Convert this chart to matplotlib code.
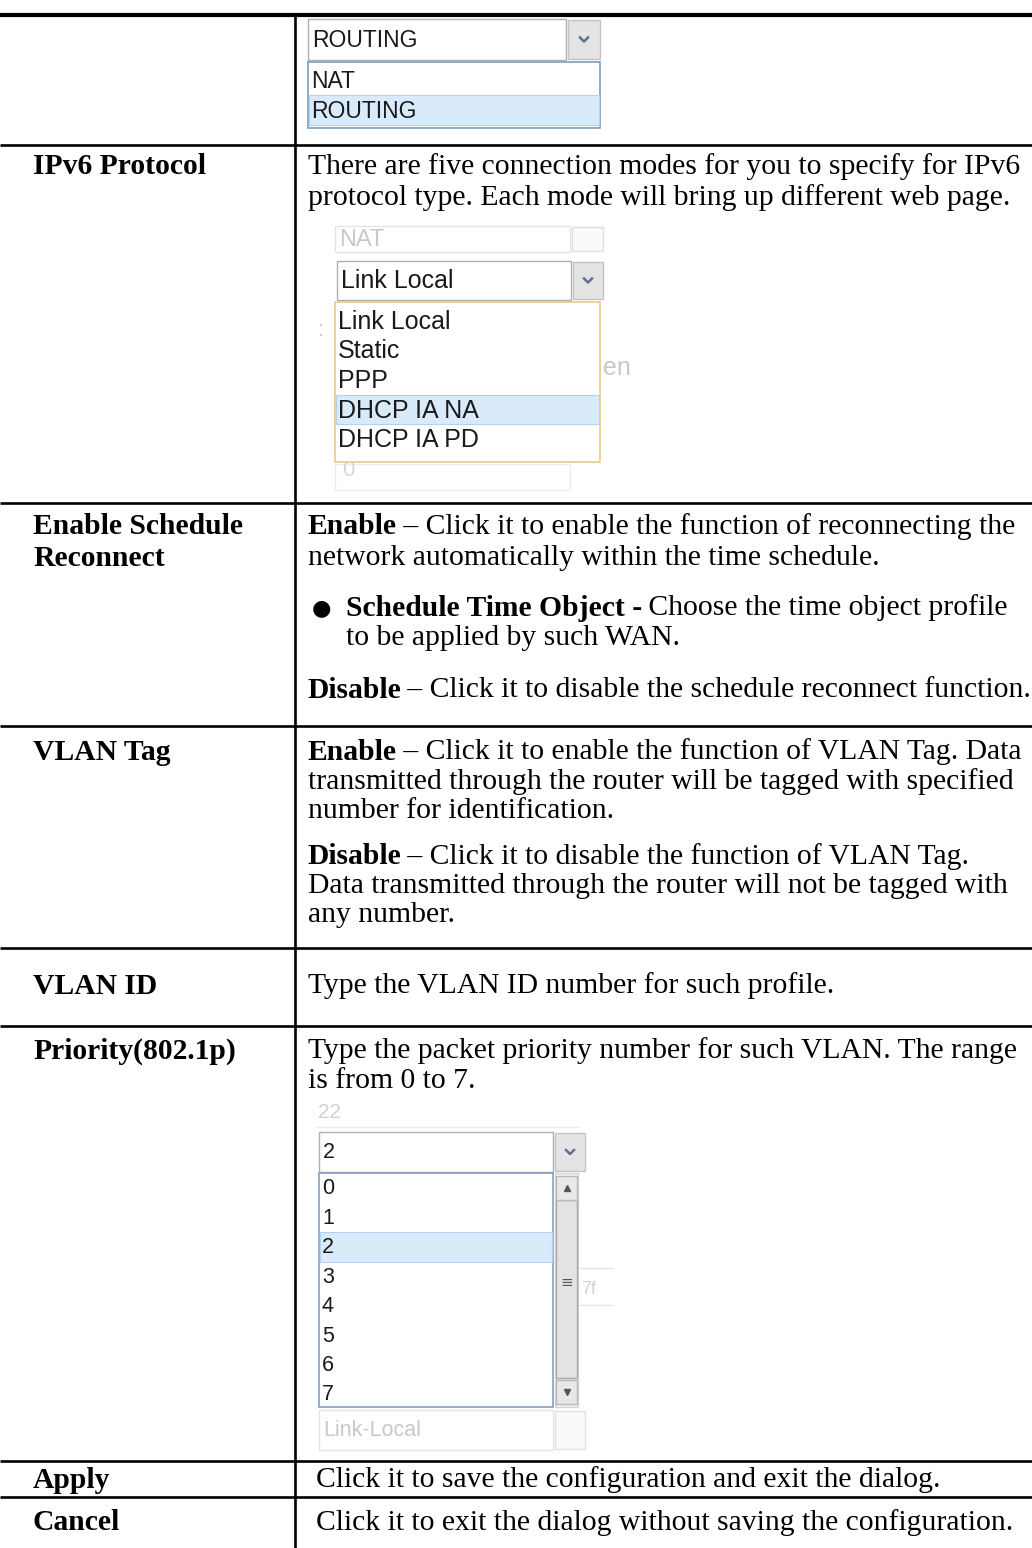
import matplotlib.pyplot as plt
from matplotlib.patches import Rectangle

# page size in pixels
W, H = 1032, 1548

SERIF = ['Liberation Serif', 'DejaVu Serif']
SANS = ['Liberation Sans', 'DejaVu Sans']
DESC_SIZE = 21.3

# ---- table text ----
row_labels = ['IPv6 Protocol', 'Enable Schedule', 'Reconnect', 'VLAN Tag', 'VLAN ID',
              'Priority(802.1p)', 'Apply', 'Cancel']

ipv6_desc = [[('There are five connection modes for you to specify for IPv6', False)],
             [('protocol type. Each mode will bring up different web page.', False)]]
sched_desc = [[('Enable', True), (' – Click it to enable the function of reconnecting the', False)],
              [('network automatically within the time schedule.', False)]]
sched_bullet = [[('Schedule Time Object -', True), (' Choose the time object profile', False)],
                [('to be applied by such WAN.', False)]]
sched_disable = [[('Disable', True), (' – Click it to disable the schedule reconnect function.', False)]]
vlan_tag_desc = [[('Enable', True), (' – Click it to enable the function of VLAN Tag. Data', False)],
                 [('transmitted through the router will be tagged with specified', False)],
                 [('number for identification.', False)],
                 [('Disable', True), (' – Click it to disable the function of VLAN Tag.', False)],
                 [('Data transmitted through the router will not be tagged with', False)],
                 [('any number.', False)]]
vlan_id_desc = [[('Type the VLAN ID number for such profile.', False)]]
priority_desc = [[('Type the packet priority number for such VLAN. The range', False)],
                 [('is from 0 to 7.', False)]]
apply_desc = [[('Click it to save the configuration and exit the dialog.', False)]]
cancel_desc = [[('Click it to exit the dialog without saving the configuration.', False)]]

# ---- dropdown contents ----
mode_options = ['NAT', 'ROUTING']
mode_selected = 'ROUTING'
ipv6_options = ['Link Local', 'Static', 'PPP', 'DHCP IA NA', 'DHCP IA PD']
ipv6_selected = 'Link Local'
ipv6_hover = 'DHCP IA NA'
priority_options = ['0', '1', '2', '3', '4', '5', '6', '7']
priority_selected = '2'

fig = plt.figure(figsize=(W / 100, H / 100), dpi=100)
ax = fig.add_axes([0, 0, 1, 1])
ax.set_xlim(0, W)
ax.set_ylim(H, 0)
ax.axis('off')
r = fig.canvas.get_renderer()


def rich_lines(x, y0, lines, step=30, size=DESC_SIZE):
    # draw lines made of bold / normal pieces
    for i, parts in enumerate(lines):
        xx = x
        for txt, bold in parts:
            t = ax.text(xx, y0 + i * step, txt, fontsize=size, family=SERIF,
                        fontweight='bold' if bold else 'normal', va='center', color='black')
            xx += t.get_window_extent(renderer=r).width - 1.5


def rect(x0, y0, x1, y1, ec='#a7a7a7', fc='white', lw=1.0, z=2):
    p = Rectangle((x0, y0), x1 - x0, y1 - y0, fc=fc, ec=ec, lw=lw, zorder=z)
    ax.add_patch(p)
    return p


def chevron(cx, cy, color='#5f6f8c'):
    ax.plot([cx - 4, cx, cx + 4], [cy - 2, cy + 2, cy - 2], color=color, lw=1.8, zorder=5)


def select_box(x0, y0, x1, y1, bx, text, size, ghost=False):
    ec = '#e4e4e4' if ghost else '#a9b0b8'
    tc = '#c8c8c8' if ghost else '#1a1a1a'
    rect(x0, y0, bx - 2, y1, ec=ec)
    rect(bx, y0 + 1, x1, y1 - 1, ec='#e0e0e0' if ghost else '#c4c4c4',
         fc='#fafafa' if ghost else '#e4e4e4')
    if not ghost:
        chevron((bx + x1) / 2, (y0 + y1) / 2)
    t = ax.text(x0 + 4, (y0 + y1) / 2 + 1, text, fontsize=size, family=SANS, va='center',
                color=tc, zorder=6)
    return t


def list_box(x0, y0, x1, y1, options, first_y, step, hover, border, size):
    box = rect(x0, y0, x1, y1, ec=border, lw=1.2, z=3)
    for i, opt in enumerate(options):
        yy = first_y + i * step
        if opt == hover:
            hl = rect(x0 + 1, yy - step / 2, x1 - 1, yy + step / 2, ec='#b3d2f2', fc='#d9eafb', lw=0.8, z=4)
            hl.set_clip_path(box)
        t = ax.text(x0 + 3, yy + 1, opt, fontsize=size, family=SANS, va='center',
                    color='#1a1a1a', zorder=6)
        t.set_clip_path(box)
    return box


# ---- table grid ----
ax.plot([0, W], [15, 15], color='black', lw=3.0, solid_capstyle='butt')
for y in [145, 503, 726, 948, 1026, 1461, 1497]:
    ax.plot([0, W], [y, y], color='black', lw=1.9, solid_capstyle='butt')
ax.plot([295, 295], [15, H], color='black', lw=1.9)

# ---- row labels ----
label_y = [167, 527, 559, 752, 986, 1051, 1480, 1523]
for lab, y in zip(row_labels, label_y):
    ax.text(33, y, lab, fontsize=DESC_SIZE, family=SERIF, fontweight='bold', va='center')

# ---- descriptions ----
rich_lines(308, 167, ipv6_desc, step=31)
rich_lines(308, 527, sched_desc, step=31)
ax.text(321, 608, '●', fontsize=16, family=['DejaVu Sans'], va='center', ha='center')
rich_lines(346, 608, sched_bullet, step=30)
rich_lines(308, 690, sched_disable)
rich_lines(308, 752, vlan_tag_desc[:3], step=29.5)
rich_lines(308, 857, vlan_tag_desc[3:], step=29)
rich_lines(308, 986, vlan_id_desc)
rich_lines(308, 1051, priority_desc, step=30)
rich_lines(316, 1480, apply_desc)
rich_lines(316, 1523, cancel_desc)

# ---- WAN mode dropdown ----
select_box(308, 19, 600, 60, 568, mode_selected, 16.5)
list_box(308, 62, 600, 128, mode_options, 80, 30, mode_selected, '#7f9db9', 16.5)

# ---- IPv6 dropdown ----
g = select_box(335, 226, 603, 252, 572, 'NAT', 17, ghost=True)
g.set_clip_path(rect(335, 233, 570, 252, ec='none', fc='none', z=0))
select_box(337, 261, 603, 300, 573, ipv6_selected, 18)
list_box(335, 302, 600, 462, ipv6_options, 321, 29.5, ipv6_hover, '#e6c88c', 18)
ax.text(318, 330, ':', fontsize=16, family=SANS, color='#d0d0d0', va='center')
ax.text(603, 368, 'en', fontsize=18, family=SANS, color='#c8c8c8', va='center')
rect(335, 464, 570, 490, ec='#ececec', z=1)
ax.text(342, 470, '0', fontsize=16, family=SANS, color='#d6d6d6', va='center', zorder=1)

# ---- priority dropdown ----
ax.text(318, 1112, '22', fontsize=15, family=SANS, color='#d0d0d0', va='center')
ax.plot([315, 578], [1127, 1127], color='#ececec', lw=1)
select_box(319, 1132, 585, 1172, 555, priority_selected, 15.5)
list_box(319, 1173, 553, 1407, priority_options, 1188, 29.4, priority_selected, '#86a0bd', 15.5)
# scroll bar
rect(555, 1173, 578, 1407, ec='#d6d6d6', fc='#f2f2f2', z=3)
rect(556, 1200, 577, 1378, ec='#a9a9a9', fc='#e3e3e3', z=4)
rect(556, 1176, 577, 1200, ec='#b8b8b8', fc='#e8e8e8', z=4)
rect(556, 1380, 577, 1404, ec='#b8b8b8', fc='#e8e8e8', z=4)
ax.plot(566.5, 1188, marker='^', ms=4, color='#555555', zorder=6)
ax.plot(566.5, 1392, marker='v', ms=4, color='#555555', zorder=6)
ax.text(566.5, 1282, '≡', fontsize=11, family=['DejaVu Sans'], ha='center', va='center', color='#555555', zorder=6)
ax.text(581, 1290, '7f', fontsize=13, family=SANS, color='#d0d0d0', va='center')
ax.plot([580, 612], [1268, 1268], color='#e4e4e4', lw=1)
ax.plot([580, 612], [1305, 1305], color='#e4e4e4', lw=1)
select_box(319, 1410, 585, 1450, 555, 'Link-Local', 15.5, ghost=True)

fig.savefig('out.png', dpi=100)
